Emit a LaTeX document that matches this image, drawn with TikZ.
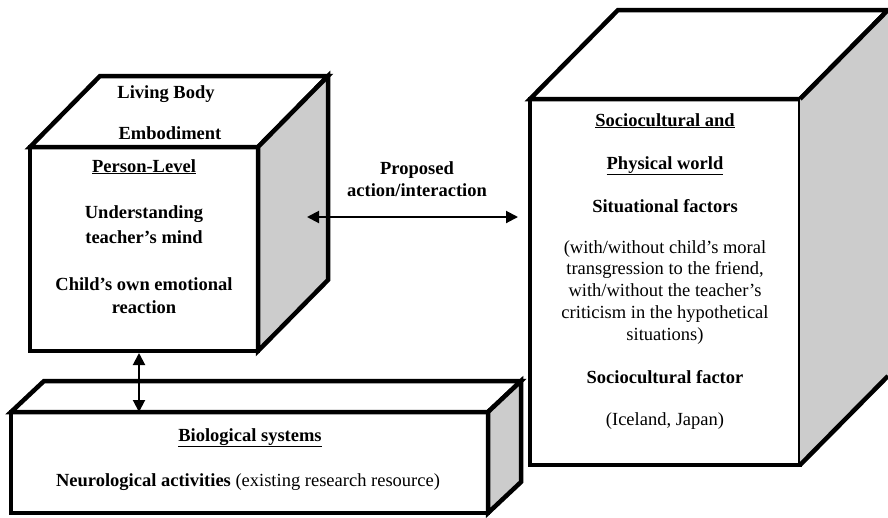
\documentclass[tikz,border=0pt]{standalone}
\usepackage{fontspec}
\setmainfont{Liberation Serif}
\usetikzlibrary{arrows.meta}
\definecolor{sidegray}{RGB}{204,204,204}
\tikzset{
  face/.style={draw,line width=4.5pt,fill=white,inner sep=0pt,outer sep=0pt},
  topface/.style={draw,line width=4.5pt,fill=white},
  sideface/.style={draw,line width=4.5pt,fill=sidegray},
  edge/.style={line width=4.5pt},
  txt/.style={align=center,anchor=base,inner sep=0pt,font=\fontsize{18.5}{21.5}\selectfont\bfseries},
  plain/.style={txt,font=\fontsize{18.5}{21.7}\selectfont},
  link/.style={line width=2pt,{Triangle[length=12pt,width=12pt]}-{Triangle[length=12pt,width=12pt]}}
}
\begin{document}
\begin{tikzpicture}[x=1pt,y=-1pt]
\useasboundingbox (0,0) rectangle (888,517);
% person level cube
\node[face,minimum width=228pt,minimum height=204pt] (person) at (144,249) {};
\draw[topface] (person.north west) -- ++(70,-71) -- ++(228,0) -- (person.north east) -- cycle;
\draw[sideface] (person.north east) -- ++(70,-71) -- ++(0,204) -- (person.south east) -- cycle;
% biological systems box
\node[face,minimum width=477pt,minimum height=101pt] (bio) at (249.5,462.5) {};
\draw[topface] (bio.north west) -- ++(33,-31) -- ++(477,0) -- (bio.north east) -- cycle;
\draw[sideface] (bio.north east) -- ++(33,-31) -- ++(0,101) -- (bio.south east) -- cycle;
% sociocultural and physical world box (back edge falls off the page)
\node[face,minimum width=270pt,minimum height=366pt] (world) at (665,282) {};
\draw[topface] (world.north west) -- ++(88,-89) -- ++(270,0) -- (world.north east) -- cycle;
\fill[sidegray] (world.north east) -- ++(88,-89) -- ++(0,366) -- (world.south east) -- cycle;
\draw[edge] (world.north east) -- ++(88,-89);
\draw[edge] (world.south east) -- ++(88,-89);

\node[txt] (living) at (166,98) {Living Body};
\node[txt] (embody) at (170,139) {Embodiment};
\node[txt] (plevel) at (144,172) {\underline{Person-Level}};
\node[txt] (mind) at (144,243) {Understanding\\[3.5pt]teacher’s mind};
\node[txt] (emotion) at (144,313) {Child’s own emotional\\[1.5pt]reaction};

\node[txt] (proposed) at (417,196) {Proposed\\action/interaction};

\node[txt] (socio) at (665,126) {\underline{Sociocultural and}};
\node[txt] (phys) at (665,169) {\underline{Physical world}};
\node[txt] (situ) at (665,212) {Situational factors};
\node[plain] (situdesc) at (665,340) {(with/without child’s moral\\transgression to the friend,\\with/without the teacher’s\\criticism in the hypothetical\\situations)};
\node[txt] (sfactor) at (665,383) {Sociocultural factor};
\node[plain] (country) at (665,425) {(Iceland, Japan)};

\node[txt] (biotitle) at (250,441) {\underline{Biological systems}};
\node[plain] (neuro) at (248,486) {\textbf{Neurological activities} (existing research resource)};

% connectors
\coordinate (act) at (307,217);
\draw[link,shorten >=12pt] (act) -- (act -| world.west);
\draw[link,shorten <=2pt] ([xshift=-5pt]person.south) -- ([xshift=-5pt]person.south |- bio.north);
\end{tikzpicture}
\end{document}
